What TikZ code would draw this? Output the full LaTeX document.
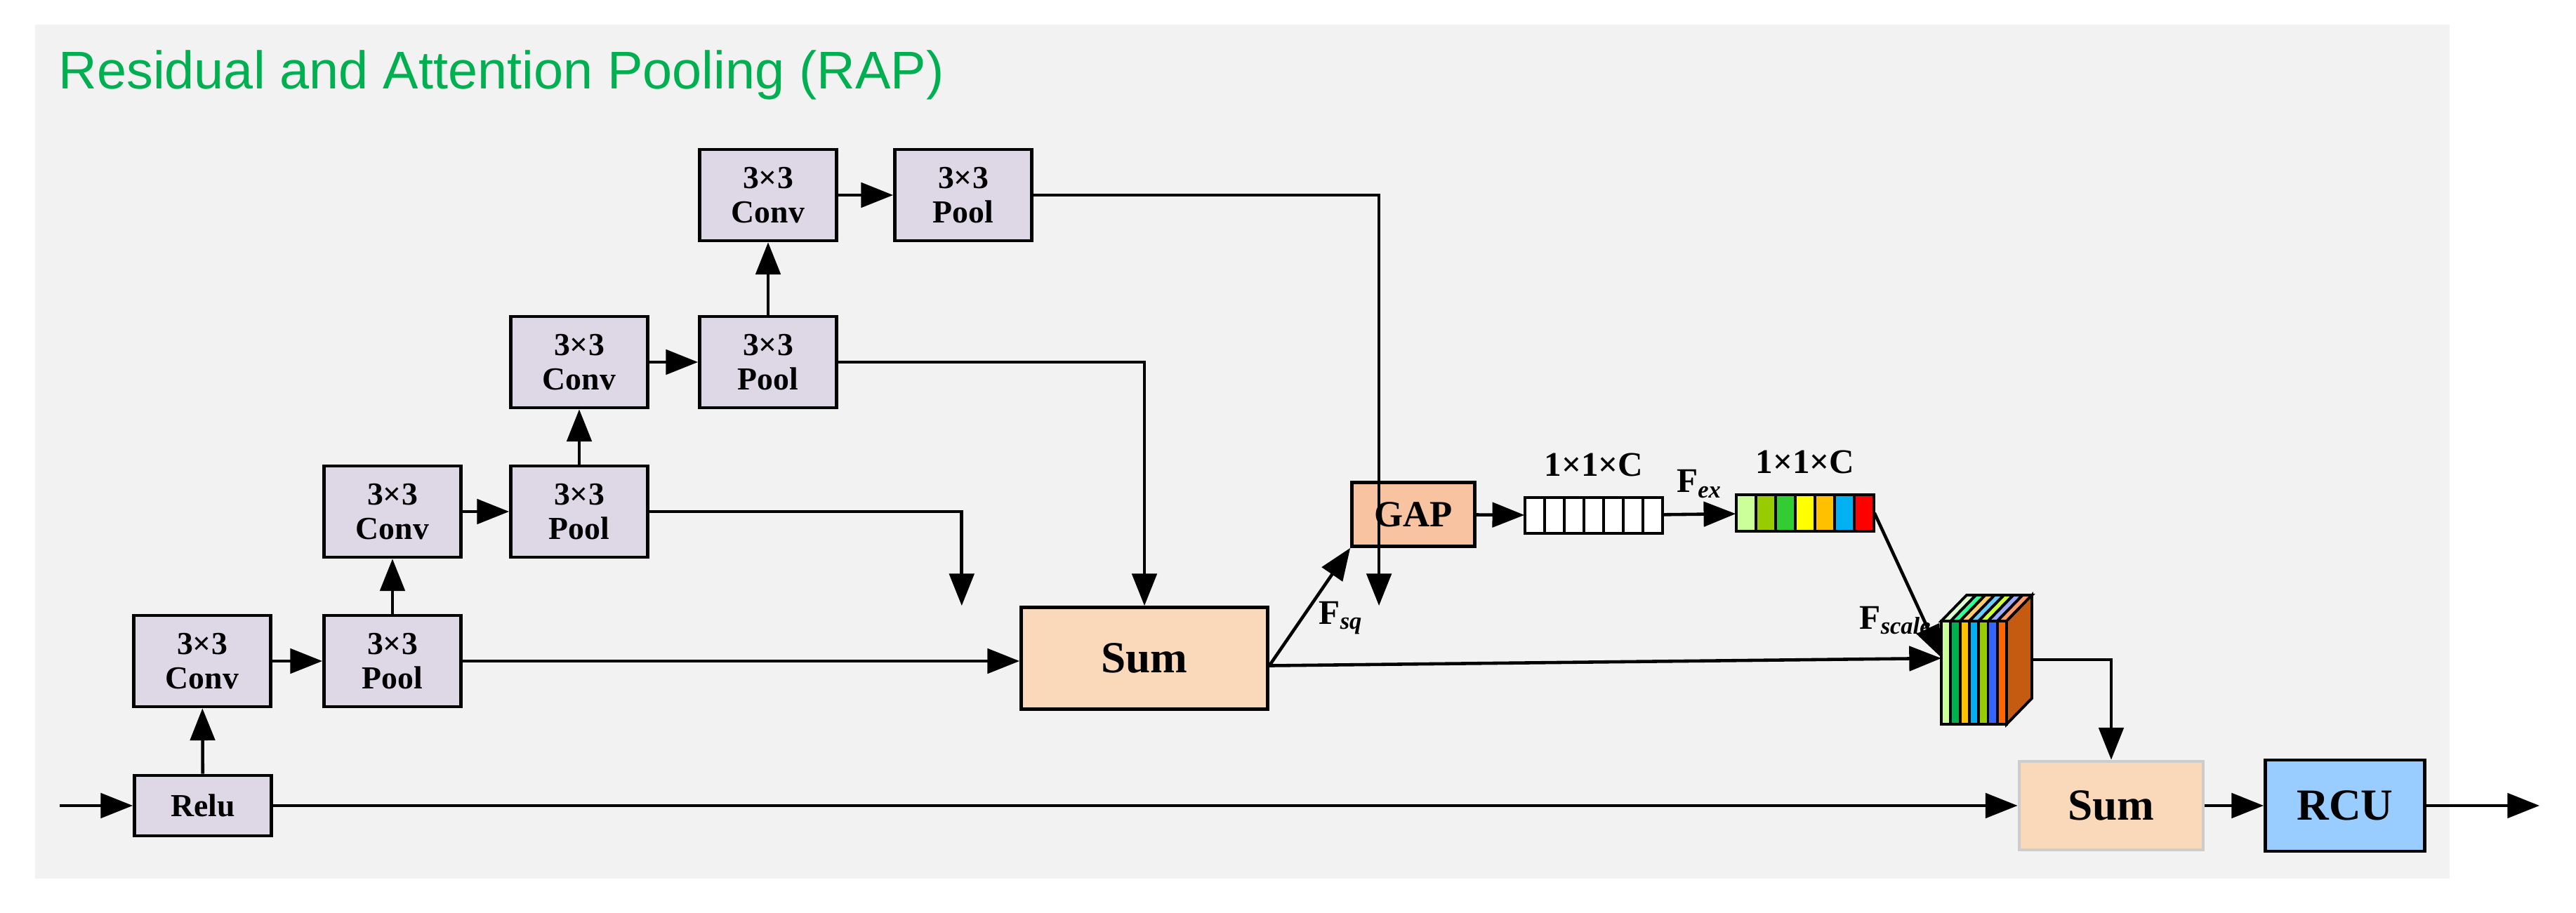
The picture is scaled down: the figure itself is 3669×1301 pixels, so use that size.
\documentclass[tikz,border=0pt]{standalone}
\usepackage{fontspec}
\setmainfont{Liberation Serif}
\newfontfamily\titlefont{Liberation Sans}
\usepackage{tikz}
\usetikzlibrary{arrows.meta,positioning}

\definecolor{bggray}{HTML}{F2F2F2}
\definecolor{boxlilac}{HTML}{DDD7E6}
\definecolor{sumpeach}{HTML}{FAD8BA}
\definecolor{gaporange}{HTML}{F8C3A0}
\definecolor{rcublue}{HTML}{99CCFF}
\definecolor{titlegreen}{HTML}{00B050}
% bar and cube colours
\definecolor{bA}{HTML}{CCFF99}\definecolor{bB}{HTML}{99CC00}\definecolor{bC}{HTML}{33CC33}
\definecolor{bD}{HTML}{FFFF00}\definecolor{bE}{HTML}{FFC000}\definecolor{bF}{HTML}{00B0F0}
\definecolor{bG}{HTML}{FF0000}
\definecolor{fA}{HTML}{CCFF99}\definecolor{fB}{HTML}{00B050}\definecolor{fC}{HTML}{FFC000}
\definecolor{fD}{HTML}{00B0F0}\definecolor{fE}{HTML}{99CC00}\definecolor{fF}{HTML}{3366FF}
\definecolor{fG}{HTML}{FF6600}
\definecolor{tA}{HTML}{DDFFCC}\definecolor{tB}{HTML}{33FF99}\definecolor{tC}{HTML}{FFCC66}
\definecolor{tD}{HTML}{66CCFF}\definecolor{tE}{HTML}{CCFF33}\definecolor{tF}{HTML}{99AAFF}
\definecolor{tG}{HTML}{FF9966}
\definecolor{sidebrown}{HTML}{C55A11}

\tikzset{
  blk/.style={rectangle,draw,line width=1.3pt,fill=boxlilac,minimum width=1.95cm,minimum height=1.3cm,
    align=center,font=\fontsize{13}{14}\selectfont\bfseries},
  arr/.style={line width=1.3pt,-{Triangle[length=13pt,width=10pt]}},
  lbl/.style={font=\fontsize{14}{16}\selectfont\bfseries,inner sep=0pt},
}

\begin{document}
\begin{tikzpicture}[x=0.01cm,y=-0.01cm]
	\useasboundingbox (0,0) rectangle (3669,1301);
	\fill[bggray] (50,35) rectangle (3489,1252);
	\node[anchor=base west,text=titlegreen,inner sep=0pt,font=\titlefont\fontsize{21.5}{24}\selectfont] (title) at (83,127) {Residual and Attention Pooling (RAP)};

	% pyramid of conv/pool blocks
	\node[blk,minimum height=0.86cm] (relu) at (289,1148) {Relu};
	\node[blk] (conv1) at (288,942) {3×3\\Conv};
	\node[blk] (pool1) at (559,942) {3×3\\Pool};
	\node[blk] (conv2) at (559,729) {3×3\\Conv};
	\node[blk] (pool2) at (825,729) {3×3\\Pool};
	\node[blk] (conv3) at (825,516) {3×3\\Conv};
	\node[blk] (pool3) at (1094,516) {3×3\\Pool};
	\node[blk] (conv4) at (1094,278) {3×3\\Conv};
	\node[blk] (pool4) at (1372,278) {3×3\\Pool};
	\node[blk,fill=sumpeach,minimum width=3.51cm,minimum height=1.45cm,font=\fontsize{18}{20}\selectfont\bfseries] (sum1) at (1630,938) {Sum};
	\node[blk,fill=gaporange,minimum width=1.75cm,minimum height=0.91cm,font=\fontsize{15}{16}\selectfont\bfseries] (gap) at (2013,733) {GAP};
	\node[blk,fill=sumpeach,draw=black!20,minimum width=2.62cm,minimum height=1.26cm,font=\fontsize{18}{20}\selectfont\bfseries] (sum2) at (3007,1148) {Sum};
	\node[blk,fill=rcublue,minimum width=2.27cm,minimum height=1.3cm,font=\fontsize{18}{20}\selectfont\bfseries] (rcu) at (3340,1148) {RCU};

	% channel vectors
	\foreach \c [count=\i from 0] in {white,white,white,white,white,white,white}
		\draw[line width=1.1pt,fill=\c] (2172+\i*28,709) rectangle ++(28,51);
	\node[draw=none,inner sep=0pt,minimum width=1.96cm,minimum height=0.51cm] (vecw) at (2270,734.5) {};
	\foreach \c [count=\i from 0] in {bA,bB,bC,bD,bE,bF,bG}
		\draw[line width=1.1pt,fill=\c] (2473+\i*28,705) rectangle ++(28,52);
	\node[draw=none,inner sep=0pt,minimum width=1.96cm,minimum height=0.52cm] (vecc) at (2571,731) {};
	\node[lbl,above=8pt of vecw] (cw) {1×1×C};
	\node[lbl,above=8pt of vecc] (cc) {1×1×C};

	% scaled feature cube
	\foreach \c [count=\i from 0] in {fA,fB,fC,fD,fE,fF,fG}
		\draw[line width=1.1pt,fill=\c] (2765+\i*13.3,885) rectangle ++(13.3,147);
	\foreach \c [count=\i from 0] in {tA,tB,tC,tD,tE,tF,tG}
		\draw[line width=1.1pt,fill=\c] (2765+\i*13.3,885) -- ++(36,-37) -- ++(13.3,0) -- ++(-36,37) -- cycle;
	\draw[line width=1.1pt,fill=sidebrown] (2858,885) -- ++(36,-37) -- ++(0,147) -- ++(-36,37) -- cycle;
	\coordinate (cubein) at (2765,937);
	\coordinate (cubeout) at (2893,940);

	% connectors
	\coordinate (input) at (85,1148);
	\coordinate (output) at (3617,1148);
	\draw[arr] (input) -- (relu);
	\draw[arr] (relu) -- (conv1);
	\draw[arr] (conv1) -- (pool1);
	\draw[arr] (pool1) -- (conv2);
	\draw[arr] (conv2) -- (pool2);
	\draw[arr] (pool2) -- (conv3);
	\draw[arr] (conv3) -- (pool3);
	\draw[arr] (pool3) -- (conv4);
	\draw[arr] (conv4) -- (pool4);
	\draw[arr] (pool1.east) -- (sum1.west|-pool1.east);
	\draw[arr] (pool2.east) -| ([xshift=-74]sum1.north);
	\draw[arr] (pool3.east) -| (sum1.north);
	\draw[arr] (pool4.east) -| ([xshift=95]sum1.north);
	\draw[arr] (relu) -- (sum2);
	\draw[arr] ([yshift=-3]sum1.east) -- (gap.south west);
	\draw[arr] ([yshift=-3]sum1.east) -- (sum1.east-|cubein);
	\node[lbl,anchor=south west] (fsq) at (1878,905) {F\textsubscript{\textit{sq}}};
	\draw[arr] (gap) -- (vecw);
	\draw[arr] (vecw) -- (vecc) node[midway,above=6pt,lbl] (fex) {F\textsubscript{\textit{ex}}};
	\draw[arr] (vecc.east) -- (cubein);
	\node[lbl,anchor=south east] (fscale) at (2752,905) {F\textsubscript{\textit{scale}}};
	\draw[arr] (cubeout) -| (sum2.north);
	\draw[arr] (sum2) -- (rcu);
	\draw[arr] (rcu) -- (output);
\end{tikzpicture}
\end{document}
